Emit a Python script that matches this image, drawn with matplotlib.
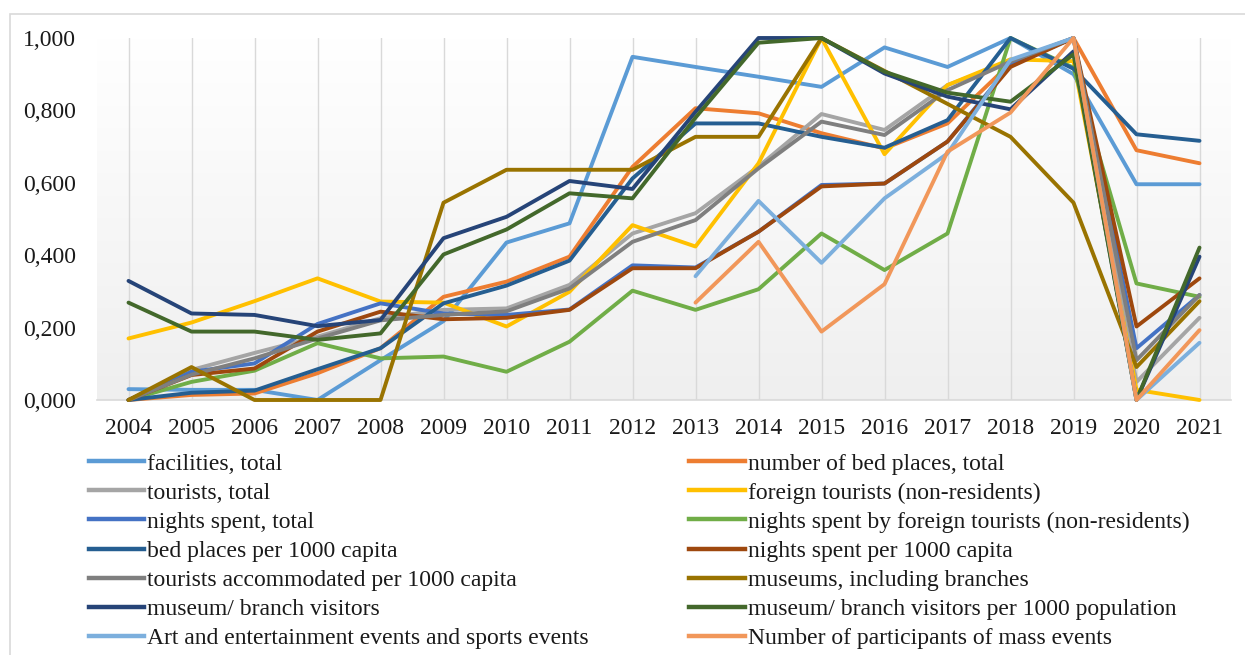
import numpy as np
import matplotlib
matplotlib.use("Agg")
import matplotlib.pyplot as plt
from matplotlib.patches import Rectangle
from matplotlib.lines import Line2D

nan = np.nan
years = [str(y) for y in range(2004, 2022)]

facilities = [0.030, 0.028, 0.028, 0.000, 0.110, 0.218, 0.435, 0.488, 0.948, 0.920, 0.893, 0.865, 0.974, 0.920, 1.000, 0.900, 0.596, 0.596]
bed_total = [0.000, 0.014, 0.018, 0.074, 0.143, 0.285, 0.327, 0.396, 0.644, 0.806, 0.792, 0.737, 0.695, 0.764, 0.930, 1.000, 0.690, 0.654]
tourists_total = [0.000, 0.083, 0.130, 0.175, 0.226, 0.249, 0.253, 0.318, 0.460, 0.516, 0.645, 0.790, 0.746, 0.870, 0.935, 1.000, 0.050, 0.227]
foreign = [0.170, 0.214, 0.273, 0.336, 0.272, 0.269, 0.203, 0.299, 0.483, 0.424, 0.654, 1.000, 0.679, 0.870, 0.941, 0.936, 0.028, 0.000]
nights_total = [0.000, 0.078, 0.101, 0.210, 0.267, 0.239, 0.235, 0.250, 0.372, 0.366, 0.465, 0.594, 0.598, 0.714, 0.925, 1.000, 0.143, 0.290]
nights_foreign = [0.000, 0.050, 0.081, 0.157, 0.115, 0.120, 0.078, 0.161, 0.302, 0.249, 0.306, 0.460, 0.359, 0.460, 1.000, 0.918, 0.322, 0.285]
bed_per1000 = [0.000, 0.020, 0.026, 0.085, 0.143, 0.267, 0.316, 0.385, 0.612, 0.764, 0.764, 0.727, 0.697, 0.773, 1.000, 0.915, 0.734, 0.716]
nights_per1000 = [0.000, 0.069, 0.087, 0.189, 0.244, 0.223, 0.227, 0.249, 0.364, 0.364, 0.465, 0.590, 0.598, 0.714, 0.920, 1.000, 0.203, 0.336]
tourists_per1000 = [0.000, 0.070, 0.115, 0.170, 0.220, 0.235, 0.245, 0.308, 0.437, 0.497, 0.640, 0.769, 0.732, 0.856, 0.935, 1.000, 0.110, 0.290]
museums = [0.000, 0.091, 0.000, 0.000, 0.000, 0.545, 0.636, 0.636, 0.636, 0.727, 0.727, 1.000, 0.909, 0.818, 0.727, 0.545, 0.091, 0.273]
visitors = [0.329, 0.239, 0.235, 0.204, 0.221, 0.447, 0.506, 0.605, 0.583, 0.796, 1.000, 1.000, 0.902, 0.838, 0.803, 0.963, 0.000, 0.396]
visitors_per1000 = [0.269, 0.189, 0.189, 0.166, 0.184, 0.402, 0.471, 0.571, 0.557, 0.780, 0.987, 1.000, 0.907, 0.849, 0.824, 0.955, 0.000, 0.421]
art_events = [nan] * 9 + [0.342, 0.550, 0.379, 0.557, 0.681, 0.940, 1.000, 0.000, 0.158]
participants = [nan] * 9 + [0.269, 0.437, 0.189, 0.320, 0.686, 0.794, 1.000, 0.000, 0.193]

labels = [
    "facilities, total",
    "number of bed places, total",
    "tourists, total",
    "foreign tourists (non-residents)",
    "nights spent, total",
    "nights spent by foreign tourists (non-residents)",
    "bed places per 1000 capita",
    "nights spent per 1000 capita",
    "tourists accommodated per 1000 capita",
    "museums, including branches",
    "museum/ branch visitors",
    "museum/ branch visitors per 1000 population",
    "Art and entertainment events and sports events",
    "Number of participants of mass events",
]
series = [facilities, bed_total, tourists_total, foreign, nights_total, nights_foreign,
          bed_per1000, nights_per1000, tourists_per1000, museums, visitors,
          visitors_per1000, art_events, participants]
colors = ["#5B9BD5", "#ED7D31", "#A5A5A5", "#FFC000", "#4472C4", "#70AD47",
          "#255E91", "#9E480E", "#7F7F7F", "#997300", "#264478", "#43682B",
          "#7CAFDD", "#F1975A"]
yticklabels = ["0,000", "0,200", "0,400", "0,600", "0,800", "1,000"]
yticks = [0, 0.2, 0.4, 0.6, 0.8, 1.0]

plt.rcParams['font.family'] = ['Liberation Serif', 'DejaVu Serif']

W, H = 1245, 655
fig = plt.figure(figsize=(W / 100, H / 100), dpi=100)
fig.patch.set_facecolor("white")

# outer chart frame
fig.patches.append(Rectangle((10 / W, -0.05), 1.2, (H - 14) / H + 0.05, transform=fig.transFigure,
                             fill=False, edgecolor="#D9D9D9", linewidth=1.2, zorder=0))

ax = fig.add_axes([97 / W, (H - 400) / H, (1231 - 97) / W, (400 - 38) / H])
x = np.arange(len(years))
ax.set_xlim(-0.5, len(years) - 0.5)
ax.set_ylim(0, 1)

# gradient background
grad = np.linspace(1.0, 0.0, 256).reshape(-1, 1)
top = np.array([1.0, 1.0, 1.0])
bot = np.array([0.937, 0.937, 0.937])
img = top * grad[..., None] + bot * (1 - grad[..., None])
ax.imshow(img, extent=(-0.5, len(years) - 0.5, 0, 1), aspect="auto", zorder=0, origin="upper")
ax.set_facecolor("white")

for xi in x:
    ax.axvline(xi, color="#D9D9D9", linewidth=1.0, zorder=1)

for vals, lab, col in zip(series, labels, colors):
    ax.plot(x, vals, color=col, linewidth=2.8, label=lab, zorder=3,
            clip_on=False, solid_joinstyle="round", solid_capstyle="round")

for s in ["top", "right", "left"]:
    ax.spines[s].set_visible(False)
ax.spines["bottom"].set_color("#D9D9D9")
ax.spines["bottom"].set_linewidth(1.2)
ax.spines["bottom"].set_zorder(2)

ax.set_xticks(x)
ax.set_xticklabels(years, fontsize=17, color="#1a1a1a")
ax.set_yticks(yticks)
ax.set_yticklabels(yticklabels, fontsize=17, color="#1a1a1a")
ax.tick_params(axis="x", length=0, pad=13)
ax.tick_params(axis="y", length=0, pad=15)

# legend, two columns, row-major ordering
order = list(range(0, 14, 2)) + list(range(1, 14, 2))
leg_handles = [Line2D([], [], color=colors[i], linewidth=3.2) for i in order]
leg_labels = [labels[i] for i in order]
leg = fig.legend(leg_handles, leg_labels, ncol=2, loc="upper left",
                 bbox_to_anchor=(89 / W, (H - 453) / H), frameon=False,
                 fontsize=17, handlelength=2.35, handletextpad=0.12,
                 labelspacing=0.32, columnspacing=4.25, borderpad=0, borderaxespad=0)
for t in leg.get_texts():
    t.set_color("#1a1a1a")

fig.savefig("out.png", dpi=100)
